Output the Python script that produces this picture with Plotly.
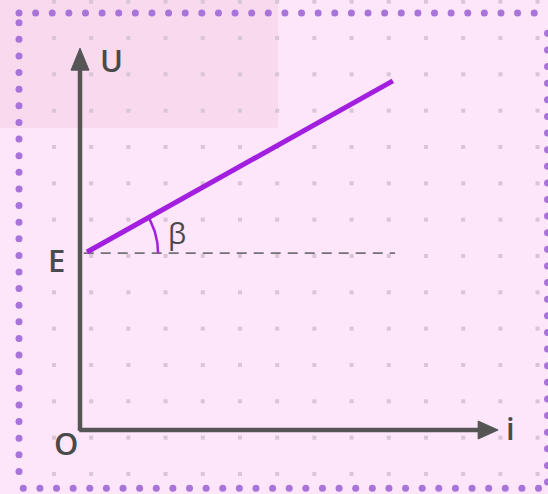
import numpy as np
import plotly.graph_objects as go

# ---- figure geometry (pixels) ----
W, H = 548, 494
OX, OY = 80, 430          # pixel position of origin O
UX, UY = 37.2, 36.33      # pixels per diagram unit (grid spacing)

def px_to_x(px):
    return (np.asarray(px, dtype=float) - OX) / UX

def py_to_y(py):
    return (OY - np.asarray(py, dtype=float)) / UY

# ---- diagram data (diagram units: grid cells) ----
axis_i_tip = 11.24        # end of i axis (arrow tip)
axis_u_tip = 10.51        # end of U axis (arrow tip)
E_level = 4.87            # U = E at i = 0
line_i = [0.19, 8.41]     # U(i) line, i values
line_u = [4.90, 9.61]     # U(i) line, U values
dash_i = [0.10, 8.47]     # horizontal reference line through E
grid_x = [-0.7 + k for k in range(14)]
grid_y = [-1.21 + k for k in range(14)]
labels = ["U", "E", "O", "i", "β"]
label_x = [0.86, -0.62, -0.38, 11.56, 2.61]
label_y = [10.18, 4.68, -0.36, 0.06, 5.45]

BG = "#fde5fa"
TL_BG = "#f9d9ee"
AXIS_C = "#555555"
PURPLE = "#a31fe0"
BORDER_C = "#a874da"
DOT_C = "#d8c5d5"
TEXT_C = "#4a4a4a"

fig = go.Figure()

# grid dots
gx, gy = np.meshgrid(grid_x, grid_y)
fig.add_trace(go.Scatter(x=gx.ravel(), y=gy.ravel(), mode="markers",
                         marker=dict(symbol="square", size=4, color=DOT_C),
                         hoverinfo="skip", showlegend=False))

# dotted border (circles)
step = 16.62
top_px = np.arange(19, 547.5, step)
left_py = np.arange(22.7, 486, step)
bot_px = np.arange(23.3, 540, step)
right_py = np.arange(33.3, 486, step)
bx = np.concatenate([top_px, np.full(len(left_py), 19.0), bot_px, np.full(len(right_py), 547.5)])
by = np.concatenate([np.full(len(top_px), 13.0), left_py, np.full(len(bot_px), 488.3), right_py])
fig.add_trace(go.Scatter(x=px_to_x(bx), y=py_to_y(by), mode="markers",
                         marker=dict(symbol="circle", size=7, color=BORDER_C),
                         hoverinfo="skip", showlegend=False, cliponaxis=False))

# dashed reference line
fig.add_trace(go.Scatter(x=dash_i, y=[E_level, E_level], mode="lines",
                         line=dict(color="#767076", width=1.7, dash="10px,7px"),
                         hoverinfo="skip", showlegend=False))

# axes
head_len_u, head_len_i = 22 / UY, 20 / UX
fig.add_trace(go.Scatter(x=[0, 0], y=[-0.02, axis_u_tip - head_len_u + 0.05], mode="lines",
                         line=dict(color=AXIS_C, width=4.5), hoverinfo="skip", showlegend=False))
fig.add_trace(go.Scatter(x=[-0.02, axis_i_tip - head_len_i + 0.05], y=[0, 0], mode="lines",
                         line=dict(color=AXIS_C, width=4.5), hoverinfo="skip", showlegend=False))
# arrow heads
hw_u = 9 / UX
hw_i = 9 / UY
fig.add_trace(go.Scatter(x=[0, -hw_u, hw_u, 0],
                         y=[axis_u_tip, axis_u_tip - head_len_u, axis_u_tip - head_len_u, axis_u_tip],
                         mode="lines", fill="toself", fillcolor=AXIS_C,
                         line=dict(color=AXIS_C, width=1), hoverinfo="skip", showlegend=False))
fig.add_trace(go.Scatter(x=[axis_i_tip, axis_i_tip - head_len_i, axis_i_tip - head_len_i, axis_i_tip],
                         y=[0, hw_i, -hw_i, 0],
                         mode="lines", fill="toself", fillcolor=AXIS_C,
                         line=dict(color=AXIS_C, width=1), hoverinfo="skip", showlegend=False))

# U(i) line
fig.add_trace(go.Scatter(x=line_i, y=line_u, mode="lines",
                         line=dict(color=PURPLE, width=5), hoverinfo="skip", showlegend=False))

# angle arc beta (circular in pixel space)
r_px = 71
theta = np.arctan2((line_u[1] - line_u[0]) * UY, (line_i[1] - line_i[0]) * UX)
t = np.linspace(0, theta, 30)
arc_x = line_i[0] + r_px * np.cos(t) / UX
arc_y = E_level + r_px * np.sin(t) / UY
fig.add_trace(go.Scatter(x=arc_x, y=arc_y, mode="lines",
                         line=dict(color=PURPLE, width=2.5), hoverinfo="skip", showlegend=False))

# labels
for txt, lx, ly in zip(labels, label_x, label_y):
    fig.add_annotation(x=lx, y=ly, xref="x", yref="y", text=txt, showarrow=False,
                       xanchor="center", yanchor="middle",
                       font=dict(family="Open Sans", size=31 if txt != "β" else 29,
                                 color=TEXT_C, weight=600 if txt != "β" else 400))

x_rng = [float(px_to_x(0)), float(px_to_x(W))]
y_rng = [float(py_to_y(H)), float(py_to_y(0))]

fig.add_shape(type="rect", xref="x", yref="y", layer="below",
              x0=float(px_to_x(0)), x1=float(px_to_x(278)),
              y0=float(py_to_y(128)), y1=float(py_to_y(0)),
              fillcolor=TL_BG, line=dict(width=0))

fig.update_layout(width=W, height=H, autosize=False,
                  margin=dict(l=0, r=0, t=0, b=0, pad=0),
                  paper_bgcolor=BG, plot_bgcolor=BG,
                  xaxis=dict(range=x_rng, visible=False, fixedrange=True),
                  yaxis=dict(range=y_rng, visible=False, fixedrange=True),
                  showlegend=False)

fig.write_html("out.html", include_plotlyjs=True,
               config={"displayModeBar": False, "staticPlot": True},
               post_script="document.body.style.margin='0';document.body.style.overflow='hidden';")
